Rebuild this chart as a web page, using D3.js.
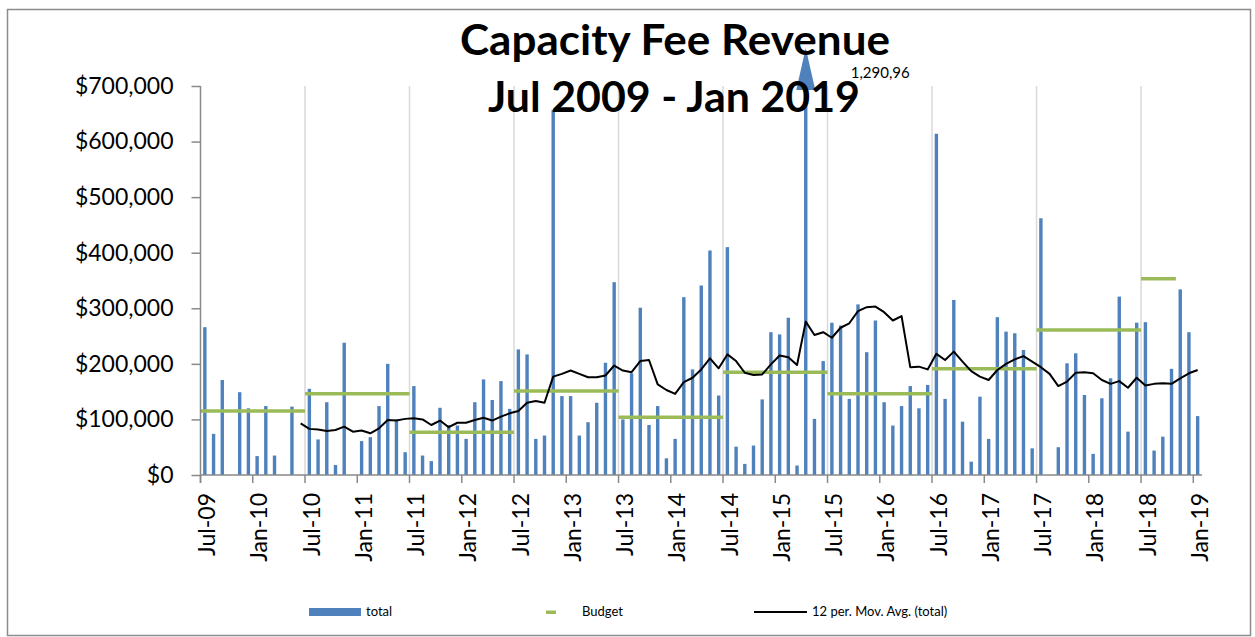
<!DOCTYPE html>
<html>
<head>
<meta charset="utf-8">
<script src="https://cdn.jsdelivr.net/npm/d3@7"></script>
<style>
  body { margin: 0; background: #fff; }
  svg { font-family: Lato, "Open Sans", sans-serif; }
</style>
</head>
<body>
<svg width="1255" height="637"></svg>
<script>
// months Jul-09 .. Jan-19
const months = d3.timeMonths(new Date(2009, 6, 1), new Date(2019, 1, 1));
const fmt = d3.timeFormat("%b-%y");
const monthLabels = months.map(fmt);

// monthly capacity fee revenue (total)
const total = [
  266000, 74000, 171000, 0, 149000, 120000, 34000, 124000, 35000, 0, 123000, 0,
  155000, 64000, 131000, 18000, 238000, 0, 61000, 68000, 124000, 200000, 100000, 41000,
  160000, 35000, 25000, 121000, 90000, 89000, 65000, 131000, 172000, 135000, 169000, 119000,
  226000, 217000, 65000, 71000, 657000, 142000, 142000, 71000, 95000, 130000, 202000, 347000,
  100000, 183000, 301000, 90000, 124000, 30000, 65000, 320000, 190000, 341000, 404000, 143000,
  410000, 51000, 20000, 53000, 136000, 257000, 253000, 283000, 17000, 1290960, 101000, 205000,
  274000, 269000, 137000, 307000, 221000, 278000, 131000, 89000, 124000, 160000, 120000, 162000,
  614000, 137000, 315000, 96000, 24000, 141000, 65000, 284000, 258000, 255000, 225000, 48000,
  462000, 0, 50000, 201000, 219000, 144000, 38000, 138000, 174000, 321000, 78000, 274000,
  275000, 44000, 69000, 191000, 334000, 257000, 106000
];

// 12 per. moving average, as plotted from Jun-10 onwards
const maStart = "Jun-10";
const movAvg = [
  93000, 83000, 82000, 79000, 81000, 87000, 78000, 80000, 75000, 84000, 99000, 98000, 101000,
  102000, 100000, 90000, 98000, 86000, 94000, 94000, 99000, 103000, 98000, 105000, 111000,
  115000, 130000, 133000, 130000, 177000, 182000, 188000, 182000, 176000, 176000, 179000, 197000,
  188000, 185000, 205000, 207000, 163000, 153000, 146000, 167000, 175000, 190000, 210000, 192000,
  217000, 205000, 184000, 180000, 181000, 199000, 215000, 212000, 198000, 276000, 252000, 257000,
  247000, 265000, 273000, 295000, 302000, 303000, 293000, 278000, 286000, 194000, 195000, 190000,
  218000, 207000, 222000, 204000, 187000, 177000, 171000, 189000, 200000, 208000, 214000, 204000,
  194000, 182000, 160000, 168000, 184000, 185000, 183000, 171000, 164000, 169000, 157000, 175000,
  161000, 164000, 165000, 164000, 174000, 183000, 189000
];

// budget by fiscal year
const budgetFrom = ["Jul-09", "Jul-10", "Jul-11", "Jul-12", "Jul-13", "Jul-14", "Jul-15", "Jul-16", "Jul-17", "Jul-18"];
const budgetTo   = ["Jun-10", "Jun-11", "Jun-12", "Jun-13", "Jun-14", "Jun-15", "Jun-16", "Jun-17", "Jun-18", "Oct-18"];
const budget     = [115000, 146000, 77000, 151000, 104000, 185000, 146000, 191000, 261000, 353000];

const yTicks = [0, 100000, 200000, 300000, 400000, 500000, 600000, 700000];

const svg = d3.select("svg");
const blue = "#4f81bd", green = "#9bbb59", axisGray = "#898989";

// outer frame
svg.append("rect")
  .attr("x", 7.5).attr("y", 9.5).attr("width", 1243).attr("height", 626)
  .attr("fill", "#fff").attr("stroke", "#8c8c8c").attr("stroke-width", 1.5);

const x = d3.scaleBand().domain(monthLabels).range([200.5, 1202]).padding(0);
const y = d3.scaleLinear().domain([0, 700000]).range([475, 86]);
const bw = x.bandwidth();
const cx = m => x(m) + bw / 2;

// vertical gridlines at each July
svg.append("g")
  .selectAll("line")
  .data(monthLabels.filter((m, i) => i > 0 && m.startsWith("Jul")))
  .enter().append("line")
    .attr("x1", d => x(d)).attr("x2", d => x(d))
    .attr("y1", y(700000)).attr("y2", y(0))
    .attr("stroke", "#d9d9d9").attr("stroke-width", 1.5);

// bars
const clipTop = y(700000);
svg.append("g")
  .selectAll("rect")
  .data(monthLabels.map((m, i) => ({ m, v: total[i] })).filter(d => d.v > 0))
  .enter().append("rect")
    .attr("x", d => cx(d.m) - 1.7)
    .attr("width", 3.4)
    .attr("y", d => Math.max(y(d.v), clipTop))
    .attr("height", d => y(0) - Math.max(y(d.v), clipTop))
    .attr("fill", blue);

// arrow + label for the off-scale month
const big = monthLabels[total.indexOf(d3.max(total))];
svg.append("path")
  .attr("d", `M${cx(big) - 9.5},90 L${cx(big) + 9.5},90 L${cx(big)},48 Z`)
  .attr("fill", blue);
svg.append("text")
  .attr("x", cx(big) + 45).attr("y", 78)
  .attr("font-size", 15).attr("fill", "#000")
  .text("1,290,96");

// budget segments
svg.append("g")
  .selectAll("line")
  .data(budget.map((v, i) => ({ v, a: budgetFrom[i], b: budgetTo[i] })))
  .enter().append("line")
    .attr("x1", d => x(d.a)).attr("x2", d => x(d.b) + bw)
    .attr("y1", d => y(d.v)).attr("y2", d => y(d.v))
    .attr("stroke", green).attr("stroke-width", 3.5);

// moving average
const maIdx = monthLabels.indexOf(maStart);
const line = d3.line().x((d, i) => cx(monthLabels[maIdx + i])).y(d => y(d));
svg.append("path")
  .datum(movAvg)
  .attr("d", line)
  .attr("fill", "none").attr("stroke", "#000").attr("stroke-width", 2)
  .attr("stroke-linejoin", "round");

// y axis
const yAxis = svg.append("g").attr("transform", "translate(200.5,0)")
  .call(d3.axisLeft(y).tickValues(yTicks).tickSize(9).tickPadding(18)
    .tickFormat(d => "$" + d3.format(",")(d)));
yAxis.select(".domain").remove();
yAxis.append("line").attr("x1", 0).attr("x2", 0).attr("y1", 86).attr("y2", 483)
  .attr("stroke", axisGray).attr("stroke-width", 1.5);
yAxis.selectAll(".tick line").attr("stroke", axisGray).attr("stroke-width", 1.5);
yAxis.selectAll(".tick text").attr("font-size", 23).attr("fill", "#000")
  .attr("font-family", "Lato, sans-serif");

// x axis
const xTickMonths = monthLabels.filter((m, i) => i % 6 === 0);
const xAxis = svg.append("g");
xAxis.append("line").attr("x1", 200.5).attr("x2", 1202).attr("y1", 475).attr("y2", 475)
  .attr("stroke", axisGray).attr("stroke-width", 1.5);
xAxis.selectAll(".xt").data(xTickMonths).enter().append("line")
  .attr("x1", d => x(d)).attr("x2", d => x(d)).attr("y1", 475).attr("y2", 483)
  .attr("stroke", axisGray).attr("stroke-width", 1.5);
xAxis.selectAll("text").data(xTickMonths).enter().append("text")
  .attr("transform", d => `translate(${x(d) + 14.5},493) rotate(-90)`)
  .attr("text-anchor", "end")
  .attr("font-size", 23).attr("fill", "#000")
  .text(d => d);

// title
svg.append("text").attr("x", 675).attr("y", 55).attr("text-anchor", "middle")
  .attr("font-size", 42).attr("font-weight", "bold")
  .attr("textLength", 430).attr("lengthAdjust", "spacingAndGlyphs")
  .text("Capacity Fee Revenue");
svg.append("text").attr("x", 674).attr("y", 112).attr("text-anchor", "middle")
  .attr("font-size", 42).attr("font-weight", "bold")
  .attr("textLength", 372).attr("lengthAdjust", "spacingAndGlyphs")
  .text("Jul 2009 - Jan 2019");

// legend
const legend = svg.append("g").attr("font-size", 13);
legend.append("rect").attr("x", 309).attr("y", 608).attr("width", 52).attr("height", 8).attr("fill", blue);
legend.append("text").attr("x", 366).attr("y", 616).text("total");
legend.append("rect").attr("x", 546).attr("y", 610.5).attr("width", 10).attr("height", 3.5).attr("fill", green);
legend.append("text").attr("x", 582).attr("y", 616).text("Budget");
legend.append("line").attr("x1", 754).attr("x2", 807).attr("y1", 612).attr("y2", 612)
  .attr("stroke", "#000").attr("stroke-width", 2);
legend.append("text").attr("x", 812).attr("y", 616).text("12 per. Mov. Avg. (total)");
</script>
</body>
</html>
